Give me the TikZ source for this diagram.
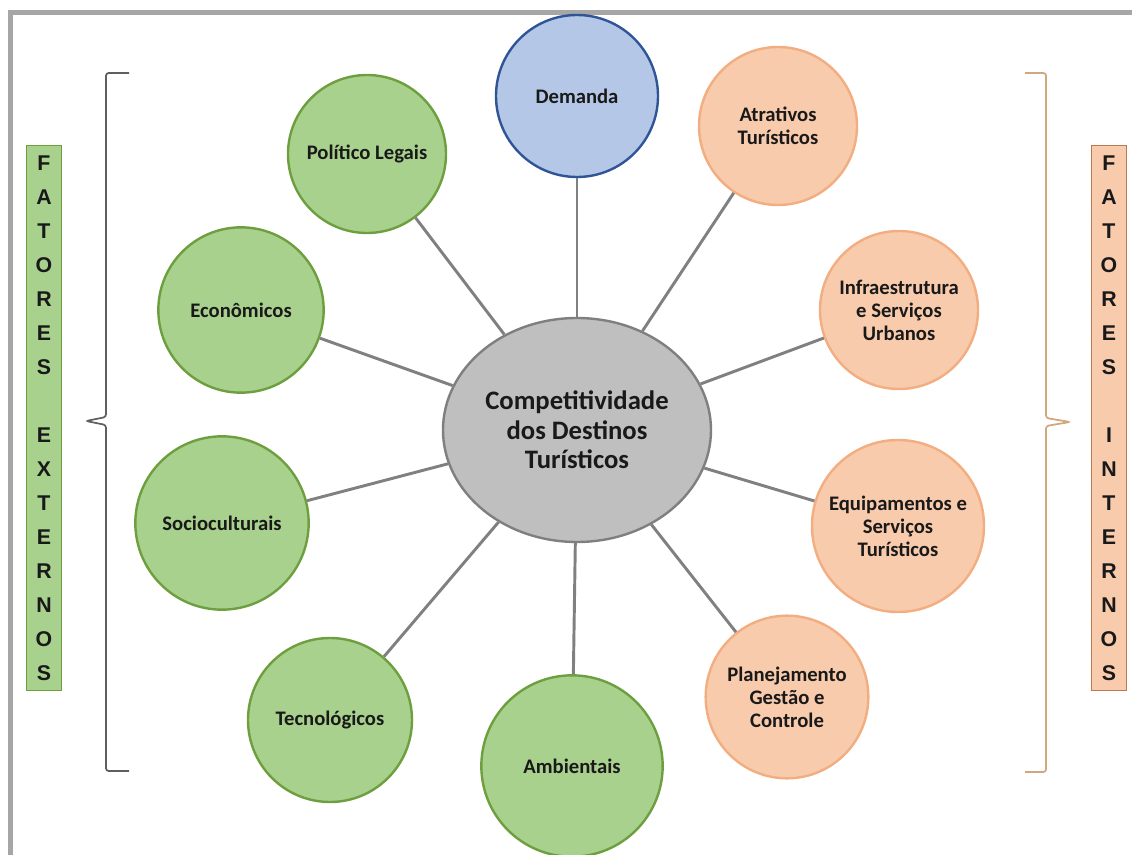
\documentclass[tikz,border=0pt]{standalone}
\usepackage{fontspec}
\setmainfont{Carlito}
\newfontfamily\sideletters{Liberation Sans}
\usetikzlibrary{shapes.geometric}

\definecolor{extfill}{HTML}{A9D18E}
\definecolor{extline}{HTML}{6E9F3F}
\definecolor{intfill}{HTML}{F8CBAD}
\definecolor{intline}{HTML}{F2AE80}
\definecolor{intbox}{HTML}{B97A52}
\definecolor{demfill}{HTML}{B4C7E7}
\definecolor{demline}{HTML}{2F5597}
\definecolor{compfill}{HTML}{BFBFBF}
\definecolor{compline}{HTML}{7F7F7F}
\definecolor{spokecol}{HTML}{808080}
\definecolor{framecol}{HTML}{A6A6A6}
\definecolor{lbracecol}{HTML}{5F5F5F}
\definecolor{rbracecol}{HTML}{D2A77E}

\begin{document}
\begin{tikzpicture}[x=0.75pt,y=-0.75pt,
  bubble/.style={circle,draw,line width=1.8pt,inner sep=0pt,align=center,
    text=black!90,font=\fontsize{15.5}{17.25}\selectfont\bfseries},
  ext/.style={bubble,fill=extfill,draw=extline},
  int/.style={bubble,fill=intfill,draw=intline},
  spoke/.style={draw=spokecol,line width=2.2pt},
  sidebox/.style={rectangle,draw,line width=1pt,minimum width=26pt,
    minimum height=409pt,inner sep=0pt,align=center,text=black!90,
    font=\sideletters\fontsize{16}{25.5}\selectfont\bfseries}
]
\useasboundingbox (0,0) rectangle (1132,855);

% frame
\draw[framecol,line width=3.8pt] (10.5,855) -- (10.5,12.5) -- (1132,12.5);

% centre
\node[ellipse,draw=compline,fill=compfill,line width=1.8pt,
  minimum width=201pt,minimum height=168pt,inner sep=0pt,align=center,
  text=black!90,font=\fontsize{20}{22}\selectfont\bfseries]
  (comp) at (577,430) {Competitividade\\dos Destinos\\Turísticos};

% bubbles
\node[bubble,fill=demfill,draw=demline,minimum size=121.5pt] (dem) at (577,96) {Demanda};
\node[ext,minimum size=118.5pt] (pol) at (367,154) {Político Legais};
\node[ext,minimum size=124pt] (eco) at (241,310) {Econômicos};
\node[ext,minimum size=130pt] (soc) at (222,523) {Socioculturais};
\node[ext,minimum size=123pt] (tec) at (330,720) {Tecnológicos};
\node[ext,minimum size=136pt] (amb) at (572,766) {Ambientais};
\node[int,minimum size=122pt] (pla) at (787,697) {Planejamento\\Gestão e\\Controle};
\node[int,minimum size=129pt] (equ) at (898,526) {Equipamentos e\\Serviços\\Turísticos};
\node[int,minimum size=118.5pt] (inf) at (899,310) {Infraestrutura\\e Serviços\\Urbanos};
\node[int,minimum size=118.5pt] (atr) at (778,126) {Atrativos\\Turísticos};

\foreach \n in {dem,pol,eco,soc,tec,amb,pla,equ,inf,atr}
  \draw[spoke] (comp) -- (\n);

% braces
\draw[lbracecol,line width=1.3pt,rounded corners=2pt]
  (129,73) -- (106,73) -- (106,417) -- (86,421) -- (106,425) -- (106,771) -- (129,771);
\draw[rbracecol,line width=1.3pt,rounded corners=2pt]
  (1025,73) -- (1046,73) -- (1046,418) -- (1070,422) -- (1046,426) -- (1046,772) -- (1025,772);

% side labels
\node[sidebox,fill=extfill,draw=extline] (ext) at (44,418)
  {F\\A\\T\\O\\R\\E\\S\\~\\E\\X\\T\\E\\R\\N\\O\\S};
\node[sidebox,fill=intfill,draw=intbox] (int) at (1109,418)
  {F\\A\\T\\O\\R\\E\\S\\~\\I\\N\\T\\E\\R\\N\\O\\S};
\end{tikzpicture}
\end{document}
